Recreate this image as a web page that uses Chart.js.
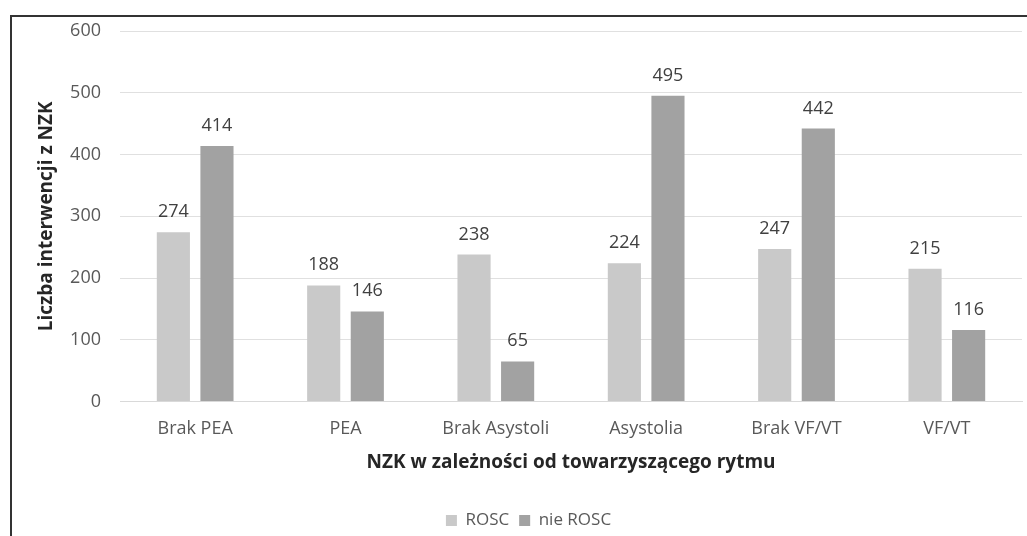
<!DOCTYPE html>
<html>
<head>
<meta charset="utf-8">
<script src="https://cdn.jsdelivr.net/npm/chart.js@4"></script>
<style>
  body { margin: 0; background: #fff; }
  #wrap { position: relative; width: 1027px; height: 536px; }
  #ramka { position: absolute; left: 10px; top: 15px; width: 1030px; height: 540px;
           border-left: 2px solid #333; border-top: 2px solid #333; pointer-events: none; }
</style>
</head>
<body>
<div id="wrap">
  <canvas id="wykres" width="1027" height="536"></canvas>
  <div id="ramka"></div>
</div>
<script>
// dane z wykresu
var kategorie = ["Brak PEA", "PEA", "Brak Asystoli", "Asystolia", "Brak VF/VT", "VF/VT"];
var rosc = [274, 188, 238, 224, 247, 215];
var nieRosc = [414, 146, 65, 495, 442, 116];
var seriaNazwy = ["ROSC", "nie ROSC"];

var szary = "#595959";
var czcionka = "'Open Sans', 'DejaVu Sans', sans-serif";

// etykiety wartosci nad slupkami
var etykiety = {
    id: "etykiety",
    afterDatasetsDraw: function (chart) {
        var ctx = chart.ctx;
        ctx.save();
        ctx.fillStyle = "#404040";
        ctx.font = "18px " + czcionka;
        ctx.textAlign = "center";
        ctx.textBaseline = "alphabetic";
        chart.data.datasets.forEach(function (ds, i) {
            var meta = chart.getDatasetMeta(i);
            meta.data.forEach(function (bar, j) {
                ctx.fillText(ds.data[j], bar.x, bar.y - 15);
            });
        });
        ctx.restore();
    }
};

var ctx = document.getElementById("wykres").getContext("2d");
new Chart(ctx, {
    type: "bar",
    data: {
        labels: kategorie,
        datasets: [{
            label: seriaNazwy[0],
            data: rosc,
            backgroundColor: "#c9c9c9",
            categoryPercentage: 0.58,
            barPercentage: 0.76
        }, {
            label: seriaNazwy[1],
            data: nieRosc,
            backgroundColor: "#a2a2a2",
            categoryPercentage: 0.58,
            barPercentage: 0.76
        }]
    },
    options: {
        responsive: false,
        animation: false,
        layout: { padding: { left: 35, right: 5, top: 31, bottom: -3 } },
        plugins: {
            legend: {
                position: "bottom",
                labels: {
                    boxWidth: 11,
                    boxHeight: 11,
                    color: szary,
                    font: { family: czcionka, size: 17 },
                    padding: 10
                }
            },
            tooltip: { enabled: false }
        },
        scales: {
            x: {
                grid: { display: false, drawTicks: false },
                border: { color: "#d9d9d9", width: 1 },
                ticks: { color: szary, font: { family: czcionka, size: 18 }, padding: 16 },
                title: {
                    display: true,
                    text: "NZK w zależności od towarzyszącego rytmu",
                    color: "#262626",
                    font: { family: czcionka, size: 19, weight: "bold" },
                    padding: { top: -4, bottom: 28 }
                }
            },
            y: {
                min: 0,
                max: 600,
                grid: { color: "#e0e0e0", drawTicks: false },
                border: { display: false },
                ticks: { stepSize: 100, color: szary, font: { family: czcionka, size: 18 }, padding: 19 },
                title: {
                    display: true,
                    text: "Liczba interwencji z NZK",
                    color: "#262626",
                    font: { family: czcionka, size: 19, weight: "bold" },
                    padding: { top: 0, bottom: 8 }
                },
                afterFit: function (skala) { skala.width = 85; }
            }
        }
    },
    plugins: [etykiety]
});
</script>
</body>
</html>
